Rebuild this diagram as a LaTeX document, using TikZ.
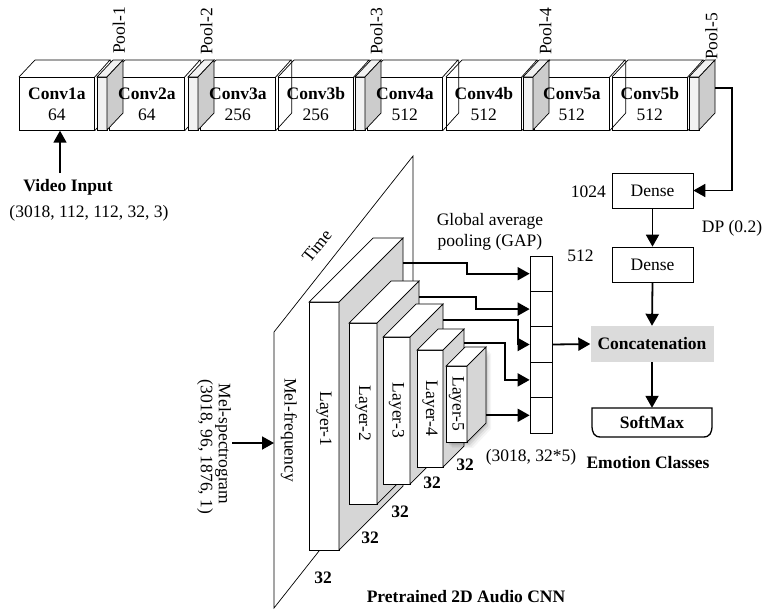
\documentclass[tikz,border=0pt]{standalone}
\usepackage{fontspec}
\setmainfont{Liberation Serif}
\usetikzlibrary{arrows.meta}
\definecolor{poolfront}{gray}{0.95}
\definecolor{poolside}{gray}{0.80}
\definecolor{layerside}{gray}{0.84}
\definecolor{concatfill}{gray}{0.86}
\begin{document}
\begin{tikzpicture}[x=1pt,y=-1pt,
  every node/.style={font=\fontsize{17.5}{21}\selectfont, inner sep=0pt},
  thinline/.style={line width=0.7pt, draw=black},
  flow/.style={line width=1.8pt, -{Triangle[length=12pt,width=13pt]}},
  convbox/.style={draw=black, line width=0.7pt, minimum width=75pt, minimum height=53pt},
  convtext/.style={align=center},
  densebox/.style={draw=black, line width=0.7pt, minimum width=81pt, minimum height=35pt},
  gapcell/.style={draw=black, line width=0.7pt, minimum width=22pt, minimum height=35.4pt},
  lbl/.style={rotate=-90}
]
\useasboundingbox (0,0) rectangle (763,611);

% ---------------- Video branch: conv boxes ----------------
\foreach \nm/\x in {c1a/19, c2a/109, c3a/200, c3b/278, c4a/367, c4b/446, c5a/534, c5b/612} {
  \node[convbox, anchor=north west] (\nm) at (\x,77) {};
  \draw[thinline] (\nm.north west) -- ++(16,-17) -- ++(75,0) -- (\nm.north east);
  \draw[thinline] ([shift={(16,-17)}]\nm.north east) -- ++(0,53) -- (\nm.south east);
}

% pools
\foreach \p in {97,188,355,523,689} {
  \filldraw[thinline, fill=poolfront] (\p,77) rectangle ++(10,53);
  \filldraw[thinline, fill=poolfront] (\p,77) -- ++(16,-17) -- ++(10,0) -- ++(-16,17) -- cycle;
  \filldraw[thinline, fill=poolside] (\p+10,77) -- ++(16,-17) -- ++(0,53) -- ++(-16,17) -- cycle;
}

% conv texts
\foreach \nm/\cvname/\cvnum in {c1a/Conv1a/64, c2a/Conv2a/64, c3a/Conv3a/256, c3b/Conv3b/256, c4a/Conv4a/512, c4b/Conv4b/512, c5a/Conv5a/512, c5b/Conv5b/512}
  \node[convtext] (t\nm) at ([yshift=0pt]\nm.center) {\textbf{\cvname}\\\cvnum};

% pool labels
\node[rotate=90, anchor=west] (pl1) at (119,54) {Pool-1};
\node[rotate=90, anchor=west] (pl2) at (206.5,55) {Pool-2};
\node[rotate=90, anchor=west] (pl3) at (376.5,55) {Pool-3};
\node[rotate=90, anchor=west] (pl4) at (545.5,55) {Pool-4};
\node[rotate=90, anchor=west] (pl5) at (711.5,60) {Pool-5};

% video input
\node (vin) at (68,187) {\textbf{Video Input}};
\node (vdim) at (89,213) {(3018, 112, 112, 32, 3)};
\coordinate (vsrc) at (60,173);
\draw[flow] (vsrc) -- (vsrc |- c1a.south);

% dense head
\node[densebox] (d1) at (652.5,190.5) {Dense};
\node[densebox] (d2) at (652.5,264.5) {Dense};
\node[anchor=east] (n1024) at (606,192) {1024};
\node (n512) at (580.5,256) {512};
\node (dp) at (732,228) {DP (0.2)};
\coordinate (p5) at (715,88);
\draw[flow] (p5) -- (732,88) |- (d1.east);
\draw[flow] (d1.south) -- (d2.north);

\node[fill=concatfill, minimum width=123pt, minimum height=36pt] (cat) at (652,344) {\textbf{Concatenation}};
\draw[flow] (d2.south) -- (cat.north);

\draw[line width=1.3pt] (592,408) -- (712,408) -- (712,425) .. controls (712,433) and (710,437) .. (703,437) -- (601,437) .. controls (594,437) and (592,433) .. (592,425) -- cycle;
\node[minimum width=120pt, minimum height=29pt] (sm) at (652,422.5) {\textbf{SoftMax}};
\draw[flow] (cat.south) -- (sm.north);
\node (emo) at (648,463) {\textbf{Emotion Classes}};

% ---------------- Audio branch ----------------
\filldraw[line width=0.7pt, fill=white] (274,332) -- (413,156) -- (413,432) -- (274,608) -- cycle;
\node[rotate=51.7] (time) at (317,246) {Time};
\node[lbl] (melf) at (289,430) {Mel-frequency};

% layers: x, top, w, h, d
\foreach \lx/\ly/\lw/\lh/\ld in {309/302/30/248/64, 349/323/28/181/42, 383/337/27/147/33, 417/350/26/117/21} {
  \filldraw[thinline, fill=white] (\lx,\ly) rectangle ++(\lw,\lh);
  \filldraw[thinline, fill=white] (\lx,\ly) -- ++(\ld,-\ld) -- ++(\lw,0) -- ++(-\ld,\ld) -- cycle;
  \filldraw[thinline, fill=layerside] (\lx+\lw,\ly) -- ++(\ld,-\ld) -- ++(0,\lh) -- ++(-\ld,\ld) -- cycle;
}
% shadow of layer 5
\foreach \s/\o in {1.5/0.10, 3/0.08, 4.5/0.06, 6/0.04}
  \fill[black, opacity=\o, shift={(\s,\s)}] (446,366) -- (467,366) -- (485,347) -- (485,423) -- (467,442) -- (446,442) -- cycle;
\filldraw[thinline, fill=white] (446,366) rectangle ++(21,76);
\filldraw[thinline, fill=white] (446,366) -- ++(19,-19) -- ++(21,0) -- ++(-19,19) -- cycle;
\filldraw[thinline, fill=layerside] (467,366) -- ++(19,-19) -- ++(0,76) -- ++(-19,19) -- cycle;

\node[lbl] (ll1) at (324,419) {Layer-1};
\node[lbl] (ll2) at (363,413.5) {Layer-2};
\node[lbl] (ll3) at (396.5,410.5) {Layer-3};
\node[lbl] (ll4) at (430,408.5) {Layer-4};
\node[lbl] (ll5) at (456.5,404) {Layer-5};

\node (s1) at (465,465) {\textbf{32}};
\node (s2) at (432,483) {\textbf{32}};
\node (s3) at (400,512) {\textbf{32}};
\node (s4) at (370,538) {\textbf{32}};
\node (s5) at (323,578) {\textbf{32}};

% mel-spectrogram input
\node[lbl] (mels) at (223,444) {Mel-spectrogram};
\node[lbl] (meld) at (205,447) {(3018, 96, 1876, 1)};
\coordinate (melsrc) at (232,443);
\coordinate (melin) at (274,443);
\draw[flow] (melsrc) -- (melin);

% GAP vector
\foreach \i/\yy in {1/273.7, 2/309.1, 3/344.5, 4/379.9, 5/415.3}
  \node[gapcell] (g\i) at (541,\yy) {};
\node[align=center] (gap) at (490,232) {Global average\\pooling (GAP)};
\node (gapdim) at (531,457) {(3018, 32*5)};

\coordinate (o1) at (403,263);
\coordinate (o2) at (419,297);
\coordinate (o3) at (443,320);
\coordinate (o4) at (464,343);
\coordinate (o5) at (486,415.3);
\draw[flow] (o1) -- (467,263) |- (g1.west);
\draw[flow] (o2) -- (476,297) |- (g2.west);
\draw[flow] (o3) -- (518,320) |- (g3.west);
\draw[flow] (o4) -- (505,343) |- (g4.west);
\draw[flow] (o5) -- (g5.west);
\draw[flow] (g3.east) -- (cat.west);

\node (cap) at (466,597) {\textbf{Pretrained 2D Audio CNN}};
\end{tikzpicture}
\end{document}
